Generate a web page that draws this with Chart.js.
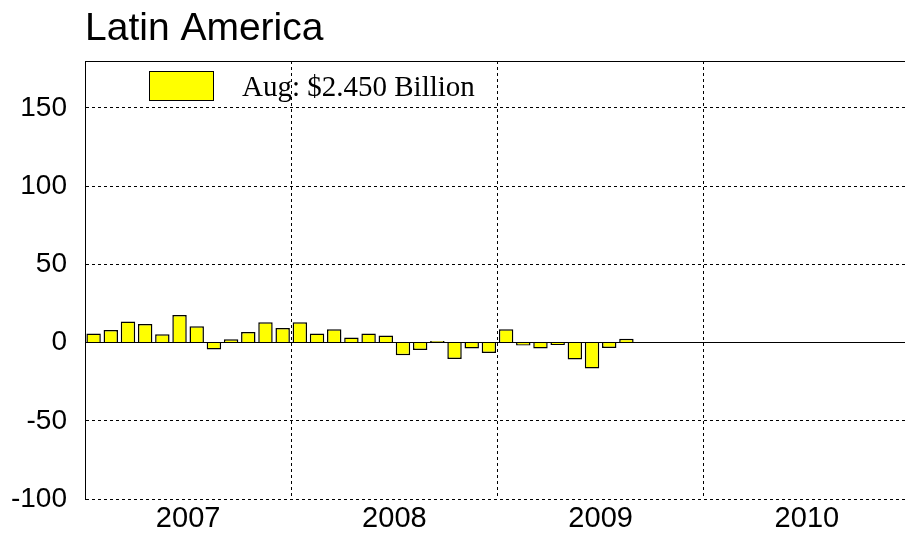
<!DOCTYPE html>
<html>
<head>
<meta charset="utf-8">
<script src="https://cdn.jsdelivr.net/npm/chart.js@4"></script>
<style>
  html, body { margin: 0; padding: 0; background: #fff; overflow: hidden; }
  canvas { display: block; }
</style>
</head>
<body>
<canvas id="latamChart" width="913" height="534"></canvas>
<script>
// monthly values, Jan 2007 .. Aug 2009 (billions)
const years = ['2007', '2008', '2009', '2010'];
const values = [
    5.8, 8.1, 13.4, 11.9, 5.3, 17.6, 10.4, -4.5, 2.1, 6.8, 13.0, 9.3,
    13.0, 5.8, 8.5, 3.2, 5.8, 4.5, -8.1, -4.7, 1.0, -10.5, -3.8, -6.6,
    8.5, -1.9, -3.8, -1.5, -10.9, -16.6, -3.4, 2.45
];
const yTicks = [-100, -50, 0, 50, 100, 150];
const legendText = 'Aug: $2.450 Billion';

const canvas = document.getElementById('latamChart');
const ctx = canvas.getContext('2d');

// frame line along the top of the plot and the legend box inside it
const framePlugin = {
    id: 'frame',
    afterDraw(chart) {
        const a = chart.chartArea;
        const c = chart.ctx;
        c.save();
        c.strokeStyle = '#000';
        c.lineWidth = 1;
        c.beginPath();
        c.moveTo(a.left, a.top + 0.5);
        c.lineTo(a.right, a.top + 0.5);
        c.stroke();

        c.fillStyle = '#ffff00';
        c.fillRect(a.left + 64, a.top + 10, 64, 29);
        c.strokeRect(a.left + 64.5, a.top + 10.5, 64, 29);

        c.fillStyle = '#000';
        c.font = '29px "Liberation Serif", "Times New Roman", serif';
        c.textBaseline = 'alphabetic';
        c.fillText(chart.data.datasets[0].label, a.left + 157, a.top + 35);
        c.restore();
    }
};

const latamChart = new Chart(ctx, {
    type: 'bar',
    data: {
        datasets: [{
            label: legendText,
            data: values.map((v, i) => ({ x: i + 0.5, y: v })),
            backgroundColor: '#ffff00',
            borderColor: '#000',
            borderWidth: 1.5,
            barPercentage: 0.84,
            categoryPercentage: 1
        }]
    },
    options: {
        responsive: false,
        animation: false,
        layout: { padding: 0 },
        plugins: {
            legend: { display: false },
            tooltip: { enabled: false },
            title: {
                display: true,
                text: 'Latin America',
                align: 'start',
                fullSize: false,
                color: '#000',
                font: { family: '"Liberation Sans", Arial, sans-serif', size: 39, weight: 'normal', lineHeight: 1 },
                padding: { top: 10, bottom: 12 }
            }
        },
        scales: {
            x: {
                type: 'linear',
                min: 0,
                max: 48,
                offset: false,
                afterFit: (scale) => { scale.height = 35; },
                ticks: {
                    stepSize: 6,
                    autoSkip: false,
                    maxRotation: 0,
                    padding: 3,
                    color: '#000',
                    font: { family: '"Liberation Sans", Arial, sans-serif', size: 29 },
                    callback: (v) => (v % 12 === 6 ? years[(v - 6) / 12] : '')
                },
                grid: {
                    offset: false,
                    drawTicks: false,
                    color: (c) => (c.tick && c.tick.value % 12 === 0 && c.tick.value > 0 && c.tick.value < 48 ? '#000' : 'rgba(0,0,0,0)'),
                    lineWidth: 1
                },
                border: { display: false, dash: [3, 3] }
            },
            y: {
                min: -100,
                max: 180,
                afterFit: (scale) => { scale.width = 85; },
                afterBuildTicks: (scale) => { scale.ticks = yTicks.map(v => ({ value: v })); },
                ticks: {
                    padding: 18,
                    color: '#000',
                    font: { family: '"Liberation Sans", Arial, sans-serif', size: 28 }
                },
                grid: {
                    drawTicks: false,
                    color: '#000',
                    lineWidth: 1
                },
                border: {
                    display: true,
                    color: '#000',
                    width: 1,
                    dash: (c) => (c.tick && c.tick.value !== 0 ? [3, 3] : [])
                }
            }
        }
    },
    plugins: [framePlugin]
});
</script>
</body>
</html>
